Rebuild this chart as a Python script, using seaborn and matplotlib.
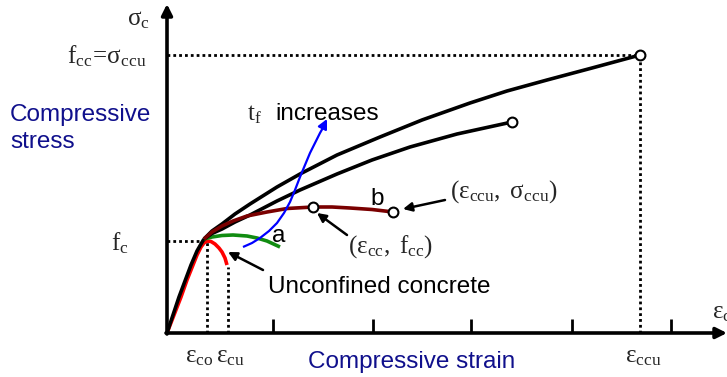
import matplotlib
matplotlib.use("Agg")
import matplotlib.pyplot as plt
import seaborn as sns

sns.set_theme(style="white")
plt.rcParams["font.family"] = ["Liberation Sans", "DejaVu Sans"]
plt.rcParams["mathtext.fontset"] = "custom"
plt.rcParams["mathtext.rm"] = "Liberation Serif"
plt.rcParams["mathtext.it"] = "Liberation Serif:italic"
plt.rcParams["mathtext.bf"] = "Liberation Serif:bold"

# ---- key points (strain, stress in arbitrary units) ----
eps_co, f_c = 0.40, 0.92
eps_cu, sig_cu = 0.61, 0.66
eps_ccu, f_cc = 4.73, 2.78
axis_ticks = [1.06, 2.06, 3.04, 4.05, 5.04]

# unconfined concrete
unconf_x = [0.00, 0.07, 0.14, 0.20, 0.26, 0.30, 0.34, 0.37, 0.40, 0.44, 0.48, 0.52, 0.55, 0.58, 0.60]
unconf_y = [0.00, 0.18, 0.36, 0.53, 0.68, 0.78, 0.86, 0.90, 0.92, 0.915, 0.89, 0.85, 0.81, 0.75, 0.68]

# common initial branch of confined concrete
init_x = [0.00, 0.12, 0.24, 0.30, 0.34, 0.37]
init_y = [0.00, 0.36, 0.68, 0.82, 0.89, 0.94]

# softening confined curve (a)
a_x = [0.37, 0.45, 0.55, 0.66, 0.80, 0.90, 1.00, 1.13]
a_y = [0.94, 0.96, 0.975, 0.98, 0.97, 0.95, 0.92, 0.86]

# curve with peak and descending branch (b)
b_x = [0.37, 0.45, 0.55, 0.66, 0.80, 1.00, 1.20, 1.46, 1.65, 1.83, 2.05, 2.26]
b_y = [0.94, 1.01, 1.07, 1.12, 1.17, 1.21, 1.245, 1.26, 1.26, 1.25, 1.235, 1.21]
eps_cc, f_cc_b = 1.46, 1.26

# hardening curves
h1_x = [0.37, 0.45, 0.55, 0.68, 0.83, 1.10, 1.33, 1.70, 2.13, 2.55, 3.03, 3.40, 3.80, 4.25, 4.73]
h1_y = [0.94, 1.02, 1.09, 1.19, 1.29, 1.46, 1.59, 1.78, 1.96, 2.13, 2.30, 2.42, 2.53, 2.65, 2.78]
h2_x = [0.37, 0.45, 0.55, 0.68, 0.83, 1.10, 1.33, 1.70, 2.05, 2.43, 2.90, 3.45]
h2_y = [0.94, 0.995, 1.04, 1.11, 1.18, 1.32, 1.43, 1.59, 1.73, 1.86, 1.99, 2.11]

# thickness trend arrow
tf_x = [0.76, 0.85, 0.93, 1.02, 1.10, 1.17, 1.23, 1.28, 1.33, 1.38, 1.43, 1.48, 1.53, 1.57]
tf_y = [0.86, 0.90, 0.95, 1.02, 1.10, 1.20, 1.31, 1.43, 1.56, 1.68, 1.80, 1.90, 2.00, 2.07]

end_x = [eps_cc, 2.26, 3.45, eps_ccu]
end_y = [f_cc_b, 1.21, 2.11, f_cc]

fig = plt.figure(figsize=(7.27, 3.77), dpi=100)
ax = fig.add_axes([0, 0, 1, 1])
ax.set_xlim(-1.67, 5.60)
ax.set_ylim(-0.44, 3.33)
ax.axis("off")

dot = dict(color="black", lw=2, linestyle=(0, (1, 1.1)))
ax.plot([0, eps_co], [f_c, f_c], **dot)
ax.plot([eps_co, eps_co], [0, f_c], **dot)
ax.plot([eps_cu, eps_cu], [0, sig_cu], **dot)
ax.plot([0, eps_ccu], [f_cc, f_cc], **dot)
ax.plot([eps_ccu, eps_ccu], [0, f_cc], **dot)

# axes with arrows
arrow_ax = dict(arrowstyle="-|>", lw=2.6, color="black", mutation_scale=16,
                shrinkA=0, shrinkB=0)
ax.annotate("", xy=(5.60, 0), xytext=(-0.01, 0), arrowprops=arrow_ax)
ax.annotate("", xy=(0, 3.29), xytext=(0, -0.01), arrowprops=arrow_ax)
ax.vlines(axis_ticks, 0, 0.14, color="black", lw=2)

kw = dict(ax=ax, sort=False, estimator=None, legend=False)
line_kw = dict(solid_joinstyle="round", solid_capstyle="butt")
sns.lineplot(x=unconf_x, y=unconf_y, color="#ff0000", lw=2.6, **kw, **line_kw)
sns.lineplot(x=init_x, y=init_y, color="black", lw=2.6, **kw, **line_kw)
sns.lineplot(x=a_x, y=a_y, color="#118c11", lw=2.6, **kw, **line_kw)
sns.lineplot(x=h1_x, y=h1_y, color="black", lw=2.6, **kw, **line_kw)
sns.lineplot(x=h2_x, y=h2_y, color="black", lw=2.6, **kw, **line_kw)
sns.lineplot(x=b_x, y=b_y, color="#7a0000", lw=2.6, **kw, **line_kw)
sns.lineplot(x=tf_x, y=tf_y, color="#0000ff", lw=1.6, **kw, **line_kw)
ax.annotate("", xy=(1.60, 2.14), xytext=(1.555, 2.05),
            arrowprops=dict(arrowstyle="-|>", lw=1.6, color="#0000ff",
                            mutation_scale=14, shrinkA=0, shrinkB=0))

sns.scatterplot(x=end_x, y=end_y, ax=ax, s=50, color="white",
                edgecolor="black", linewidth=1.5, zorder=5, legend=False)

# pointer arrows
ptr = dict(arrowstyle="-|>", lw=1.8, color="black", mutation_scale=13,
           shrinkA=0, shrinkB=0)
ax.annotate("", xy=(2.36, 1.24), xytext=(2.78, 1.33), arrowprops=ptr)
ax.annotate("", xy=(1.50, 1.20), xytext=(1.80, 0.98), arrowprops=ptr)
ax.annotate("", xy=(0.61, 0.81), xytext=(0.96, 0.63), arrowprops=ptr)

navy = "#10108c"
sans = 17.5
serif = 18
ax.text(-1.57, 2.12, "Compressive", color=navy, fontsize=sans, va="baseline")
ax.text(-1.57, 1.85, "stress", color=navy, fontsize=sans, va="baseline")
ax.text(1.41, -0.35, "Compressive strain", color=navy, fontsize=sans, va="baseline")
ax.text(1.01, 0.40, "Unconfined concrete", color="black", fontsize=sans, va="baseline")
ax.text(1.08, 2.13, "increases", color="black", fontsize=sans, va="baseline")
ax.text(1.05, 0.91, "a", color="black", fontsize=sans, va="baseline")
ax.text(2.03, 1.28, "b", color="black", fontsize=sans, va="baseline")

ax.text(0.80, 2.13, r"$\mathrm{t}_\mathrm{f}$", fontsize=serif, va="baseline")
ax.text(-0.17, 3.08, r"$\mathrm{σ}_\mathrm{c}$", fontsize=serif, va="baseline", ha="right")
ax.text(-0.20, 2.70, r"$\mathrm{f}_\mathrm{cc}\!\mathrm{=}\!\mathrm{σ}_\mathrm{ccu}$",
        fontsize=serif, va="baseline", ha="right")
ax.text(-0.38, 0.83, r"$\mathrm{f}_\mathrm{c}$", fontsize=serif, va="baseline", ha="right")
ax.text(1.81, 0.80, r"$\mathrm{(ε}_\mathrm{cc}\mathrm{,\ f}_\mathrm{cc}\mathrm{)}$",
        fontsize=serif, va="baseline")
ax.text(2.83, 1.35, r"$\mathrm{(ε}_\mathrm{ccu}\mathrm{,\ σ}_\mathrm{ccu}\mathrm{)}$",
        fontsize=serif, va="baseline")
ax.text(0.32, -0.29, r"$\mathrm{ε}_\mathrm{co}$", fontsize=serif, va="baseline", ha="center")
ax.text(0.63, -0.29, r"$\mathrm{ε}_\mathrm{cu}$", fontsize=serif, va="baseline", ha="center")
ax.text(4.76, -0.29, r"$\mathrm{ε}_\mathrm{ccu}$", fontsize=serif, va="baseline", ha="center")
ax.text(5.45, 0.15, r"$\mathrm{ε}_\mathrm{c}$", fontsize=serif, va="baseline")

fig.savefig("out.png", dpi=100)
